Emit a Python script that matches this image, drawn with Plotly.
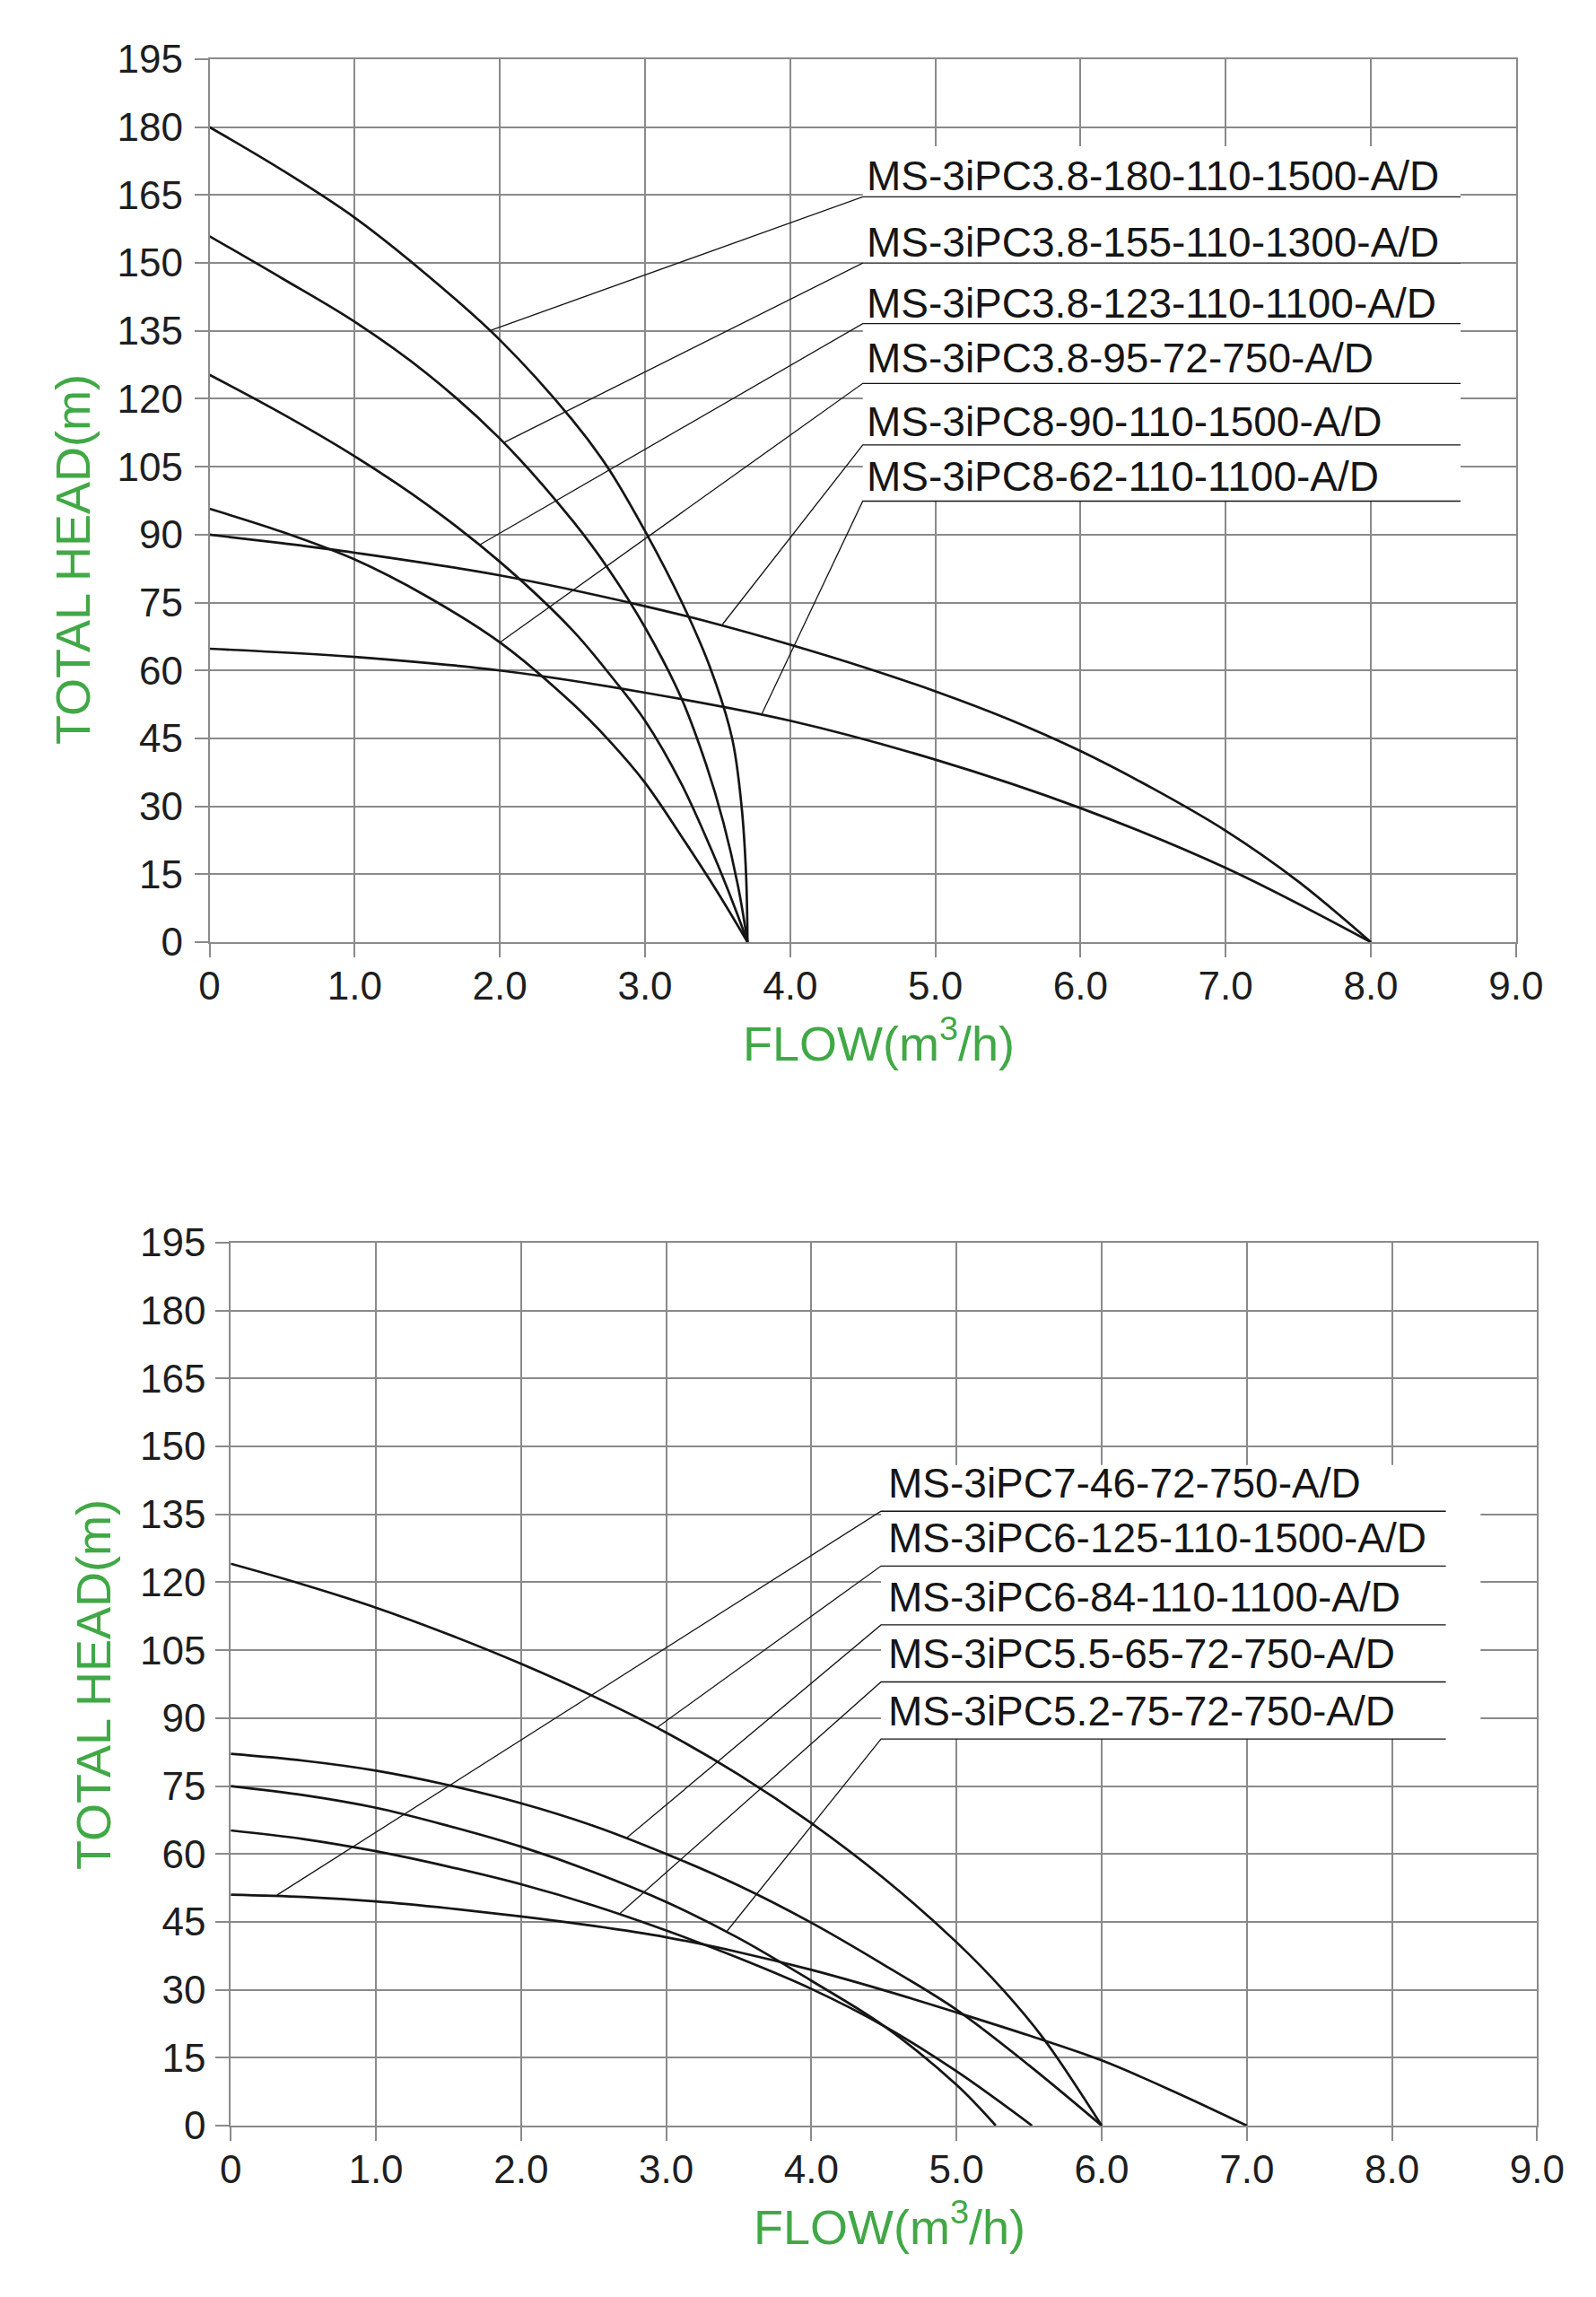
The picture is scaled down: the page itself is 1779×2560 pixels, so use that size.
import plotly.graph_objects as go

W, H = 1779, 2560

# ---------------- DATA: top chart ----------------
top_names = [
    "MS-3iPC3.8-180-110-1500-A/D",
    "MS-3iPC3.8-155-110-1300-A/D",
    "MS-3iPC3.8-123-110-1100-A/D",
    "MS-3iPC3.8-95-72-750-A/D",
    "MS-3iPC8-90-110-1500-A/D",
    "MS-3iPC8-62-110-1100-A/D",
]
flow_180 = [0, 0.5, 1.0, 1.5, 2.0, 2.5, 2.75, 3.0, 3.25, 3.45, 3.6, 3.665, 3.696, 3.706]
head_180 = [180, 170.5, 160, 147.3, 133.0, 115.3, 104.5, 90.8, 75.3, 60.5, 45, 30, 15, 0]
flow_155 = [0, 0.5, 1.0, 1.5, 2.0, 2.5, 2.75, 3.0, 3.25, 3.42, 3.54, 3.64, 3.706]
head_155 = [155.9, 146.6, 137, 125.5, 111.2, 93.1, 82.3, 69.5, 53.9, 39.3, 26.4, 12.5, 0]
flow_123 = [0, 0.5, 1.0, 1.5, 2.0, 2.5, 2.75, 3.0, 3.25, 3.46, 3.62, 3.706]
head_123 = [125.3, 116.7, 107.3, 96.6, 84.0, 68.9, 59.4, 48.9, 35, 20.2, 7.5, 0]
flow_95 = [0, 0.5, 1.0, 1.5, 2.0, 2.5, 2.75, 3.0, 3.25, 3.5, 3.706]
head_95 = [95.7, 90.6, 84.5, 76.3, 66.2, 52.7, 44.6, 35.2, 23.4, 11.0, 0]
flow_90 = [0, 0.5, 1.0, 2.0, 3.0, 3.5, 4.0, 4.5, 5.0, 5.5, 6.0, 6.5, 7.0, 7.5, 8.0]
head_90 = [90, 88.1, 86.0, 81.0, 74.2, 70.2, 65.7, 60.8, 55.4, 49.3, 42.2, 33.9, 24.6, 13.4, 0]
flow_62 = [0, 1.0, 2.0, 3.0, 4.0, 5.0, 6.0, 7.0, 8.0]
head_62 = [64.8, 63.0, 60.0, 55.1, 48.9, 40.3, 29.6, 16.4, 0]

top_label_y = [164.6, 150.0, 136.6, 123.4, 109.8, 97.4]       # underline heights (m)
top_point_x = [1.925, 2.026, 1.863, 2.0, 3.534, 3.80]          # leader end on curve
top_point_y = [135.0, 110.3, 87.8, 66.2, 70.2, 50.1]

# ---------------- DATA: bottom chart ----------------
bot_names = [
    "MS-3iPC7-46-72-750-A/D",
    "MS-3iPC6-125-110-1500-A/D",
    "MS-3iPC6-84-110-1100-A/D",
    "MS-3iPC5.5-65-72-750-A/D",
    "MS-3iPC5.2-75-72-750-A/D",
]
flow_b125 = [0, 0.5, 1.0, 1.5, 2.0, 2.5, 3.0, 3.5, 4.0, 4.5, 5.0, 5.32, 5.6, 6.0]
head_b125 = [124.1, 119.5, 114.4, 108.5, 102.0, 94.8, 86.8, 77.5, 66.8, 54.6, 40.5, 30.0, 19.2, 0]
flow_b84 = [0, 0.5, 1.0, 1.5, 2.0, 2.5, 3.0, 3.5, 4.0, 4.5, 5.0, 5.5, 6.0]
head_b84 = [82.1, 80.6, 78.4, 75.2, 71.2, 66.2, 60.0, 53.0, 44.8, 35.5, 25.6, 13.3, 0]
flow_b75 = [0, 0.5, 1.0, 1.5, 2.0, 2.5, 3.0, 3.5, 4.0, 4.5, 5.0, 5.27]
head_b75 = [75.0, 73.0, 70.2, 66.2, 61.6, 56.0, 49.4, 41.4, 32.0, 22.0, 9.0, 0]
flow_b65 = [0, 0.5, 1.0, 1.5, 2.0, 2.5, 3.0, 3.5, 4.0, 4.5, 5.0, 5.52]
head_b65 = [65.2, 63.3, 60.6, 57.2, 53.3, 48.6, 43.1, 37.0, 30.2, 22.0, 12.0, 0]
flow_b46 = [0, 0.5, 1.0, 1.5, 2.0, 2.5, 3.0, 3.5, 4.0, 4.5, 5.0, 5.5, 6.0, 6.5, 7.0]
head_b46 = [51.0, 50.5, 49.5, 48.0, 46.2, 44.1, 41.6, 38.3, 34.4, 29.9, 25.0, 19.9, 14.4, 7.5, 0]

bot_label_y = [135.7, 123.6, 110.6, 98.0, 85.4]
bot_point_x = [0.318, 2.94, 2.73, 2.68, 3.42]
bot_point_y = [50.9, 88.0, 63.6, 46.8, 43.0]

x_tickvals = [0, 1, 2, 3, 4, 5, 6, 7, 8, 9]
x_ticktext = ["0", "1.0", "2.0", "3.0", "4.0", "5.0", "6.0", "7.0", "8.0", "9.0"]
y_tickvals = [0, 15, 30, 45, 60, 75, 90, 105, 120, 135, 150, 165, 180, 195]

# ---------------- STYLE / LAYOUT ----------------
FONT = "Liberation Sans, Arial, Helvetica, sans-serif"
GRID = "#8a8a8a"
GREEN = "#41A846"
INK = "#151515"

TOP_PX = (233.6, 66.0, 1689.8, 1050.0)     # left, top, right, bottom in pixels
BOT_PX = (257.2, 1385.0, 1713.4, 2369.0)

top_lab_x0, top_lab_x1, top_box_top = 4.50, 8.618, 175.8
bot_lab_x0, bot_lab_x1, bot_box_x1, bot_box_top = 4.48, 8.371, 8.61, 145.9
top_text_shift = [-5, -5, -5, 0, -2, 0]
bot_text_shift = [3, 3, 3, 3, 3]


def dom_x(p):
    return [p[0] / W, p[2] / W]


def dom_y(p):
    return [(H - p[3]) / H, (H - p[1]) / H]


fig = go.Figure()

top_curves = [(flow_180, head_180), (flow_155, head_155), (flow_123, head_123),
              (flow_95, head_95), (flow_90, head_90), (flow_62, head_62)]
bot_curves = [(flow_b125, head_b125), (flow_b84, head_b84), (flow_b75, head_b75),
              (flow_b65, head_b65), (flow_b46, head_b46)]

for fx, hy in top_curves:
    fig.add_trace(go.Scatter(x=fx, y=hy, mode="lines", xaxis="x", yaxis="y",
                             line=dict(color=INK, width=2.7, shape="spline", smoothing=1.0),
                             hoverinfo="skip", showlegend=False))
for fx, hy in bot_curves:
    fig.add_trace(go.Scatter(x=fx, y=hy, mode="lines", xaxis="x2", yaxis="y2",
                             line=dict(color=INK, width=2.7, shape="spline", smoothing=1.0),
                             hoverinfo="skip", showlegend=False))

shapes = []
annotations = []

# white label blocks (cover grid)
shapes.append(dict(type="rect", xref="x", yref="y", x0=top_lab_x0, x1=top_lab_x1,
                   y0=top_label_y[-1], y1=top_box_top, fillcolor="white",
                   line=dict(width=0), layer="between"))
shapes.append(dict(type="rect", xref="x2", yref="y2", x0=bot_lab_x0, x1=bot_box_x1,
                   y0=bot_label_y[-1], y1=bot_box_top, fillcolor="white",
                   line=dict(width=0), layer="between"))

# leader lines + underlines + labels
for name, ly, px_, py_, sh in zip(top_names, top_label_y, top_point_x, top_point_y, top_text_shift):
    fig.add_trace(go.Scatter(x=[px_, top_lab_x0, top_lab_x1], y=[py_, ly, ly], mode="lines",
                             xaxis="x", yaxis="y", line=dict(color=INK, width=1.3),
                             hoverinfo="skip", showlegend=False))
    annotations.append(dict(text=name, x=top_lab_x0, y=ly, xref="x", yref="y",
                            xanchor="left", yanchor="bottom", showarrow=False,
                            xshift=2, yshift=sh,
                            font=dict(family=FONT, size=46, color=INK)))
for name, ly, px_, py_, sh in zip(bot_names, bot_label_y, bot_point_x, bot_point_y, bot_text_shift):
    fig.add_trace(go.Scatter(x=[px_, bot_lab_x0, bot_lab_x1], y=[py_, ly, ly], mode="lines",
                             xaxis="x2", yaxis="y2", line=dict(color=INK, width=1.3),
                             hoverinfo="skip", showlegend=False))
    annotations.append(dict(text=name, x=bot_lab_x0, y=ly, xref="x2", yref="y2",
                            xanchor="left", yanchor="bottom", showarrow=False,
                            xshift=6, yshift=sh,
                            font=dict(family=FONT, size=46, color=INK)))

# axis titles
title_font_x = dict(family=FONT, size=54, color=GREEN)
title_font_y = dict(family=FONT, size=54, color=GREEN)
annotations += [
    dict(text="FLOW(m<sup>3</sup>/h)", x=979.5 / W, y=(H - 1159) / H, xref="paper", yref="paper",
         xanchor="center", yanchor="middle", showarrow=False, font=title_font_x),
    dict(text="FLOW(m<sup>3</sup>/h)", x=991 / W, y=(H - 2478) / H, xref="paper", yref="paper",
         xanchor="center", yanchor="middle", showarrow=False, font=title_font_x),
    dict(text="TOTAL HEAD(m)", x=81 / W, y=(H - 624) / H, xref="paper", yref="paper",
         xanchor="center", yanchor="middle", textangle=-90, showarrow=False, font=title_font_y),
    dict(text="TOTAL HEAD(m)", x=104 / W, y=(H - 1878) / H, xref="paper", yref="paper",
         xanchor="center", yanchor="middle", textangle=-90, showarrow=False, font=title_font_y),
]


def xaxis(dom, anchor, standoff):
    return dict(domain=dom, anchor=anchor, range=[0, 9], tickmode="array",
                tickvals=x_tickvals, ticktext=x_ticktext, automargin=False,
                showgrid=True, gridcolor=GRID, gridwidth=1.8, zeroline=False,
                showline=True, linecolor=GRID, linewidth=1.8, mirror=True,
                ticks="outside", ticklen=15, tickwidth=1.8, tickcolor=GRID,
                ticklabelstandoff=standoff,
                tickfont=dict(family=FONT, size=44, color="#1e1e1e"), fixedrange=True)


def yaxis(dom, anchor, standoff):
    return dict(domain=dom, anchor=anchor, range=[0, 195], tickmode="array",
                tickvals=y_tickvals, automargin=False,
                showgrid=True, gridcolor=GRID, gridwidth=1.8, zeroline=False,
                showline=True, linecolor=GRID, linewidth=1.8, mirror=True,
                ticks="outside", ticklen=15, tickwidth=1.8, tickcolor=GRID,
                ticklabelstandoff=standoff,
                tickfont=dict(family=FONT, size=44, color="#1e1e1e"), fixedrange=True)


fig.update_layout(
    template="none",
    width=W, height=H,
    margin=dict(l=0, r=0, t=0, b=0, pad=0, autoexpand=False),
    paper_bgcolor="white", plot_bgcolor="white",
    font=dict(family=FONT, color=INK),
    xaxis=xaxis(dom_x(TOP_PX), "y", -6),
    yaxis=yaxis(dom_y(TOP_PX), "x", 4),
    xaxis2=xaxis(dom_x(BOT_PX), "y2", -6),
    yaxis2=yaxis(dom_y(BOT_PX), "x2", 2),
    shapes=shapes,
    annotations=annotations,
    showlegend=False,
)

fig.write_html("out.html")
